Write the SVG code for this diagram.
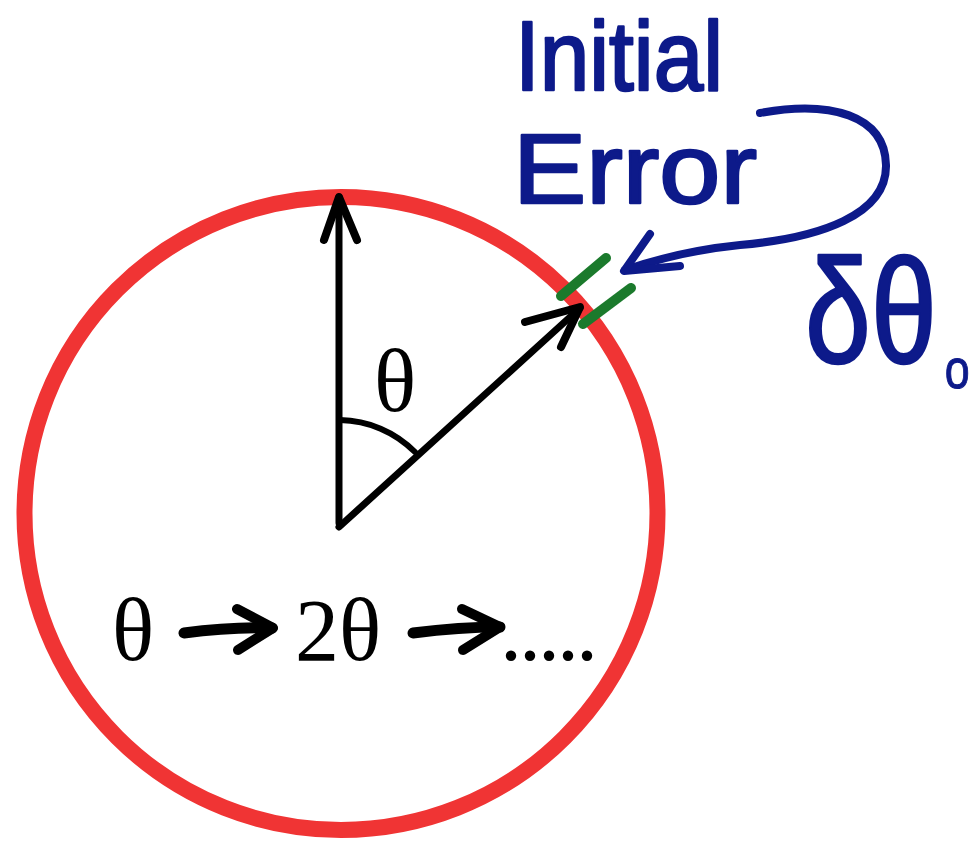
<svg xmlns="http://www.w3.org/2000/svg" width="973" height="845" viewBox="0 0 973 845">
<style>
.blk{fill:none;stroke:#000;stroke-linecap:round;stroke-linejoin:round}
.blue{fill:none;stroke:#0d1a8a;stroke-linecap:round;stroke-linejoin:round}
.serif{font-family:"Liberation Serif","Times New Roman",serif;font-size:88px;fill:#000}
.hand{font-family:"Liberation Sans",Arial,sans-serif;fill:#0d1a8a;stroke:#0d1a8a;stroke-width:2.5;stroke-linejoin:round}
.green{stroke:#1b7a2c;stroke-width:10;stroke-linecap:round}
</style>
<rect width="973" height="845" fill="#fff"/>
<g id="circle">
<circle cx="341" cy="513.5" r="316.5" fill="none" stroke="#f03434" stroke-width="16"/>
</g>
<g id="connectors">
<path class="blk" stroke-width="7" d="M339,523 L339,197"/>
<path class="blk" stroke-width="8" d="M324,240 L339,197 L357,240"/>
<path class="blk" stroke-width="7" d="M339,527 L580,308"/>
<path class="blk" stroke-width="8" d="M525,322 L580,307 L561,347"/>
<path class="blk" stroke-width="6" d="M340,420 A108,108 0 0 1 415,452"/>
<path class="blk" stroke-width="11" d="M184,633 Q230,627 272,628"/>
<path class="blk" stroke-width="10" d="M237,609 L273,628 L238,650"/>
<path class="blk" stroke-width="11" d="M413,633 Q460,627 500,627"/>
<path class="blk" stroke-width="10" d="M462,609 L500,627 L463,650"/>
<path class="blue" stroke-width="8" d="M760,113 C830,100 885,115 886,165 C887,215 820,238 740,245 C700,249 660,258 625,270"/>
<path class="blue" stroke-width="8" d="M650,234 L624,271 L680,266"/>
</g>
<g id="marks">
<line class="green" x1="561" y1="296" x2="606" y2="258"/>
<line class="green" x1="583" y1="324" x2="631" y2="288"/>
</g>
<g id="theta-label">
<text class="serif" x="395" y="411" text-anchor="middle">θ</text>
</g>
<g id="sequence">
<text class="serif" x="112" y="660">θ</text>
<text class="serif" x="295" y="660">2θ</text>
<text class="serif" x="500" y="660" letter-spacing="-3">.....</text>
</g>
<g id="initial-error">
<text class="hand" x="515" y="90" font-size="98" textLength="208" lengthAdjust="spacingAndGlyphs">Initial</text>
<text class="hand" x="513" y="203" font-size="98" textLength="244" lengthAdjust="spacingAndGlyphs">Error</text>
</g>
<g id="delta-theta">
<text class="hand" transform="translate(805,363) scale(0.8,1)" font-size="148" stroke-width="0">δθ<tspan font-size="56" dx="10" dy="25" stroke-width="1">o</tspan></text>
</g>
</svg>
